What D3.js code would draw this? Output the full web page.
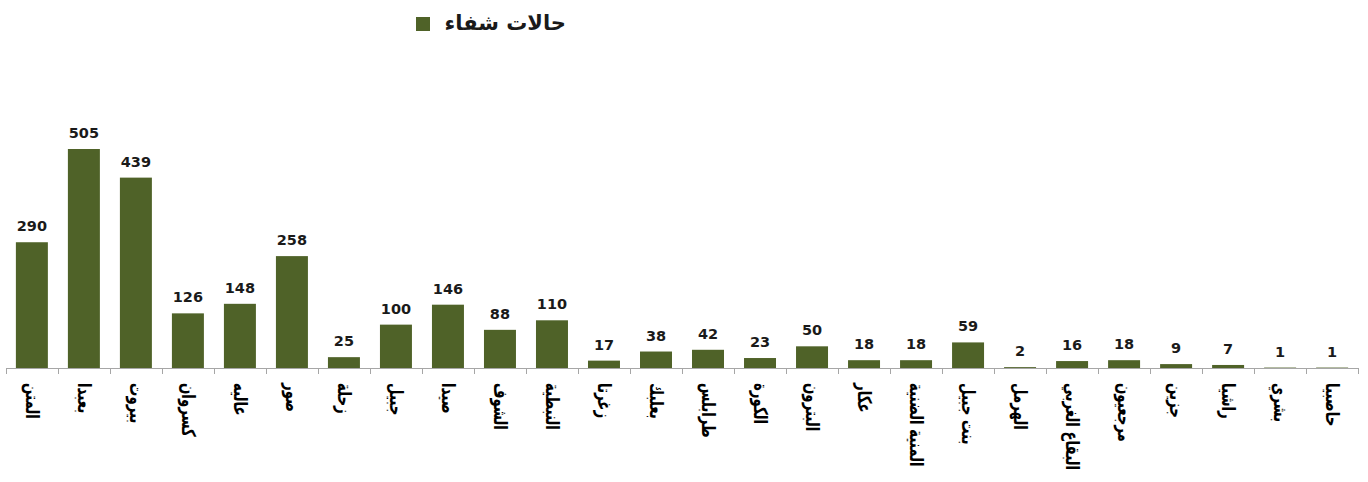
<!DOCTYPE html>
<html>
<head>
<meta charset="utf-8">
<script src="https://cdn.jsdelivr.net/npm/d3@7"></script>
<style>
  body { margin: 0; background: #fff; }
  svg { display: block; font-family: "DejaVu Sans", sans-serif; }
</style>
</head>
<body>
<div id="chart"></div>
<script>
// districts, left to right
const districts = ["المتن", "بعبدا", "بيروت", "كسروان", "عاليه", "صور", "زحلة", "جبيل", "صيدا", "الشوف",
  "النبطية", "زغرتا", "بعلبك", "طرابلس", "الكورة", "البترون", "عكار", "المنية الضنية", "بنت جبيل",
  "الهرمل", "البقاع الغربي", "مرجعيون", "جزين", "راشيا", "بشري", "حاصبيا"];
const recovered = [290, 505, 439, 126, 148, 258, 25, 100, 146, 88, 110, 17, 38, 42, 23, 50, 18, 18, 59,
  2, 16, 18, 9, 7, 1, 1];
const seriesName = "حالات شفاء";

const W = 1368, H = 482;
const margin = { top: 130, right: 10, bottom: 114, left: 6 };
const barColor = "#4f6228";

const svg = d3.select("#chart").append("svg")
  .attr("width", W)
  .attr("height", H);

const x = d3.scaleBand()
  .domain(districts)
  .range([margin.left, W - margin.right])
  .paddingInner(0.385)
  .paddingOuter(0.19);

const y = d3.scaleLinear()
  .domain([0, 505])
  .range([H - margin.bottom, 149]);

// bars
svg.append("g").selectAll("rect")
  .data(districts)
  .join("rect")
  .attr("x", d => x(d))
  .attr("y", (d, i) => y(recovered[i]))
  .attr("width", x.bandwidth())
  .attr("height", (d, i) => y(0) - y(recovered[i]))
  .attr("fill", barColor);

// value labels
svg.append("g").selectAll("text")
  .data(districts)
  .join("text")
  .attr("x", d => x(d) + x.bandwidth() / 2)
  .attr("y", (d, i) => y(recovered[i]) - 11)
  .attr("text-anchor", "middle")
  .style("font-size", "14.5px")
  .style("font-weight", "bold")
  .attr("fill", "#1a1a1a")
  .text((d, i) => recovered[i]);

// x axis, ticks between categories
const axisY = y(0);
const axis = svg.append("g");
axis.append("line")
  .attr("x1", margin.left).attr("x2", W - margin.right)
  .attr("y1", axisY + 0.5).attr("y2", axisY + 0.5)
  .attr("stroke", "#a6a6a6");
const tickXs = d3.range(districts.length + 1).map(i => margin.left + i * (W - margin.right - margin.left) / districts.length);
axis.selectAll(".tick")
  .data(tickXs)
  .join("line")
  .attr("x1", d => Math.round(d) + 0.5).attr("x2", d => Math.round(d) + 0.5)
  .attr("y1", axisY).attr("y2", axisY + 6)
  .attr("stroke", "#a6a6a6");

// rotated category labels (squeezed along the reading direction)
axis.selectAll(".cat")
  .data(districts)
  .join("text")
  .attr("class", "cat")
  .attr("transform", d => `translate(${x(d) + x.bandwidth() / 2}, ${axisY + 15}) rotate(90) scale(0.78,1)`)
  .attr("dy", "0.3em")
  .attr("text-anchor", "start")
  .style("font-family", "'DejaVu Sans Condensed', 'DejaVu Sans', sans-serif")
  .style("font-size", "19px")
  .style("font-weight", "bold")
  .attr("fill", "#000")
  .text(d => d);

// legend
const legend = svg.append("g");
legend.append("rect")
  .attr("x", 416).attr("y", 17)
  .attr("width", 14).attr("height", 14)
  .attr("fill", barColor);
legend.append("text")
  .attr("x", 566).attr("y", 30)
  .attr("text-anchor", "end")
  .style("font-size", "21px")
  .style("font-weight", "bold")
  .attr("fill", "#1a1a1a")
  .text(seriesName);
</script>
</body>
</html>
